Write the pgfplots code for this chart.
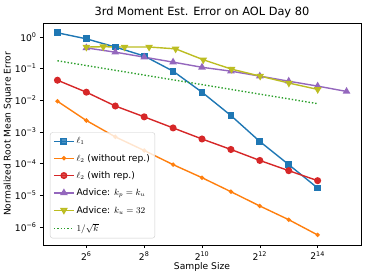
\documentclass[border=0pt]{standalone}
\usepackage{pgfplots}
\pgfplotsset{compat=1.18}
\usepackage{fontspec}
\setmainfont{DejaVu Sans}
\definecolor{tblue}{HTML}{1F77B4}
\definecolor{torange}{HTML}{FF7F0E}
\definecolor{tgreen}{HTML}{2CA02C}
\definecolor{tred}{HTML}{D62728}
\definecolor{tpurple}{HTML}{9467BD}
\definecolor{tolive}{HTML}{BCBD22}
\begin{document}
\begin{tikzpicture}[x=1bp,y=1bp]
\fontsize{9.2}{11}\selectfont
\begin{axis}[
  scale only axis, width=318bp, height=222bp,
  xmode=log, ymode=log, log basis x=2, log basis y=10,
  xmin=22.627, xmax=46341, ymin=2.7e-7, ymax=2.75,
  xtick={64,256,1024,4096,16384},
  xticklabels={2\textsuperscript{6},2\textsuperscript{8},2\textsuperscript{10},2\textsuperscript{12},2\textsuperscript{14}},
  xminorticks=false,
  ytick={1,0.1,0.01,0.001,0.0001,0.00001,0.000001},
  yticklabels={10\textsuperscript{0},10\textsuperscript{−1},10\textsuperscript{−2},10\textsuperscript{−3},10\textsuperscript{−4},10\textsuperscript{−5},10\textsuperscript{−6}},
  tick align=outside, tick pos=left,
  major tick length=3.2bp, minor tick length=1.8bp,
  every tick/.style={black, line width=0.6pt},
  ticklabel style={font=\fontsize{9.2}{11}\selectfont},
  title={3rd Moment Est. Error on AOL Day 80},
  title style={font=\fontsize{11.4}{13}\selectfont, yshift=-4bp},
  xlabel={Sample Size},
  ylabel={Normalized Root Mean Square Error},
  label style={font=\fontsize{9.2}{11}\selectfont},
  xlabel style={yshift=4bp},
  ylabel style={yshift=-4bp},
  axis line style={line width=0.6pt},
  legend style={at={(0.022,0.03)}, anchor=south west, draw=black!20, rounded corners=2.5bp, fill=white, fill opacity=0.8, text opacity=1, font=\fontsize{9.2}{11}\selectfont, inner sep=3bp, row sep=5bp},
  legend cell align=left,
  legend image code/.code={
    \draw[mark repeat=2,mark phase=2] plot coordinates {(0bp,0bp) (10bp,0bp) (20bp,0bp)};
  },
  every axis plot/.append style={line width=1.4bp},
]
\addplot[color=tblue, mark=square*, mark size=2.7bp] coordinates {
(32,1.35) (64,0.87) (128,0.48) (256,0.25) (512,0.083) (1024,0.018) (2048,0.0033) (4096,0.0005) (8192,0.000093) (16384,0.000017)};
\addlegendentry{$\ell_1$}
\addplot[color=torange, mark=*, mark size=1.4bp] coordinates {
(32,0.0093) (64,0.0023) (128,0.0007) (256,0.00026) (512,0.000093) (1024,0.000036) (2048,0.000013) (4096,0.0000046) (8192,0.0000017) (16384,0.00000056)};
\addlegendentry{$\ell_2$ (without rep.)}
\addplot[color=tred, mark=*, mark size=2.8bp] coordinates {
(32,0.043) (64,0.018) (128,0.0066) (256,0.003) (512,0.00134) (1024,0.0006) (2048,0.00028) (4096,0.000126) (8192,0.00006) (16384,0.000029)};
\addlegendentry{$\ell_2$ (with rep.)}
\addplot[color=tpurple, mark=triangle*, mark size=3.1bp] coordinates {
(64,0.45) (128,0.33) (256,0.23) (512,0.16) (1024,0.11) (2048,0.083) (4096,0.058) (8192,0.04) (16384,0.028) (32768,0.019)};
\addlegendentry{Advice: $k_p = k_u$}
\addplot[color=tolive, mark=triangle*, mark options={rotate=180}, mark size=3.1bp] coordinates {
(64,0.48) (96,0.49) (160,0.48) (288,0.48) (544,0.42) (1056,0.19) (2080,0.096) (4128,0.058) (8224,0.035) (16416,0.022)};
\addlegendentry{Advice: $k_u = 32$}
\addplot[color=tgreen, dotted, line width=1.4bp] coordinates {
(32,0.17678) (64,0.125) (128,0.088388) (256,0.0625) (512,0.044194) (1024,0.03125) (2048,0.022097) (4096,0.015625) (8192,0.011049) (16384,0.0078125)};
\addlegendentry{$1/\sqrt{k}$}
\end{axis}
\pgfresetboundingbox
\useasboundingbox (-43bp,-35bp) rectangle (331bp,245bp);
\end{tikzpicture}
\end{document}
